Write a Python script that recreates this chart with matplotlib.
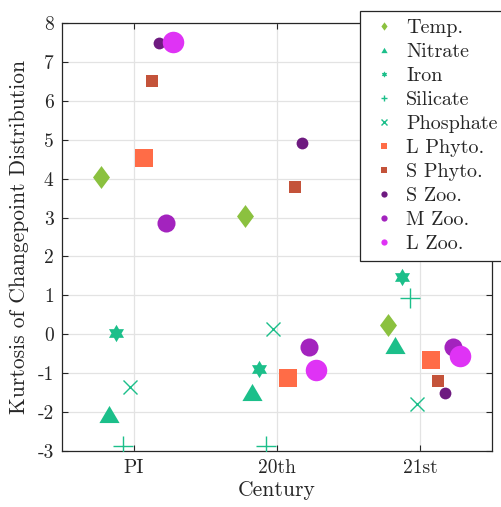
import numpy as np
import matplotlib
matplotlib.use("Agg")
import matplotlib.pyplot as plt
from matplotlib.lines import Line2D
from matplotlib.path import Path

plt.rcParams['font.family'] = ['cmr10', 'DejaVu Serif']
plt.rcParams['axes.unicode_minus'] = False
plt.rcParams['mathtext.fontset'] = 'cm'

# ---------------- data ----------------
centuries = ["PI", "20th", "21st"]
series_names = ["Temp.", "Nitrate", "Iron", "Silicate", "Phosphate",
                "L Phyto.", "S Phyto.", "S Zoo.", "M Zoo.", "L Zoo."]
temp      = [4.04, 3.05, 0.23]
nitrate   = [-2.05, -1.48, -0.27]
iron      = [0.04, -0.88, 1.48]
silicate  = [-2.87, -2.87, 0.92]
phosphate = [-1.35, 0.13, -1.80]
l_phyto   = [4.54, -1.13, -0.66]
s_phyto   = [6.50, 3.79, -1.19]
s_zoo     = [7.48, 4.92, -1.52]
m_zoo     = [2.86, -0.32, -0.32]
l_zoo     = [7.51, -0.93, -0.55]
yticks = [-3, -2, -1, 0, 1, 2, 3, 4, 5, 6, 7, 8]

values = [temp, nitrate, iron, silicate, phosphate,
          l_phyto, s_phyto, s_zoo, m_zoo, l_zoo]

# ---------------- style ----------------
teal = '#1CBF8A'
colors = ['#8BC13F', teal, teal, teal, teal,
          '#FF6C47', '#C4533A', '#6E1A80', '#A323BE', '#DF33F5']
diamond = Path([(0, 1), (0.74, 0), (0, -1), (-0.74, 0), (0, 1)],
               [Path.MOVETO, Path.LINETO, Path.LINETO, Path.LINETO, Path.CLOSEPOLY])
triangle = Path([(0, 0.85), (1, -0.85), (-1, -0.85), (0, 0.85)],
                [Path.MOVETO, Path.LINETO, Path.LINETO, Path.CLOSEPOLY])
_ang = np.pi / 2 + np.arange(12) * np.pi / 6
_rad = np.where(np.arange(12) % 2 == 0, 1.0, 1 / np.sqrt(3))
_verts = list(zip(_rad * np.cos(_ang), _rad * np.sin(_ang)))
hexagram = Path(_verts + [_verts[0]],
                [Path.MOVETO] + [Path.LINETO] * 11 + [Path.CLOSEPOLY])
markers = [diamond, triangle, hexagram, '+', 'x', 's', 's', 'o', 'o', 'o']
sizes = [16.5, 14.5, 12.5, 15, 9.5, 13, 8, 8.5, 13, 15.5]
offsets = [-0.225, -0.175, -0.125, -0.075, -0.025, 0.075, 0.125, 0.175, 0.225, 0.275]

fig = plt.figure(figsize=(5.01, 5.07), dpi=100)
ax = fig.add_axes([62/501, 1 - 451/507, 430/501, 428/507])

x = np.arange(1, len(centuries) + 1)
for name, vals, c, m, s, off in zip(series_names, values, colors, markers, sizes, offsets):
    lw_edge = 1.0 if isinstance(m, str) and m in ('+', 'x') else 0
    ax.plot(x + off, vals, linestyle='none', marker=m, markersize=s,
            color=c, markerfacecolor=c, markeredgecolor=c,
            markeredgewidth=lw_edge, zorder=3)

ax.set_xlim(0.5, 3.5)
ax.set_ylim(-3, 8)
ax.set_xticks(x)
ax.set_xticklabels(centuries)
ax.set_yticks(yticks)
ax.set_yticklabels([str(v) for v in yticks])
ax.grid(True, color='#E3E3E3', linewidth=0.9, zorder=0)
ax.set_axisbelow(True)
ax.tick_params(direction='in', top=True, right=True, length=4, width=0.8,
               colors='#262626', labelsize=14, pad=6)
for sp in ax.spines.values():
    sp.set_color('#262626')
    sp.set_linewidth(0.9)

ax.set_xlabel('Century', fontsize=15.5, color='#262626', labelpad=2)
ax.set_ylabel('Kurtosis of Changepoint Distribution', fontsize=15.5,
              color='#262626', labelpad=6)

handles = []
for name, c, m in zip(series_names, colors, markers):
    is_line = isinstance(m, str) and m in ('+', 'x')
    ms = 5 if is_line else 4.5
    if m is diamond:
        ms = 6
    handles.append(Line2D([], [], linestyle='none', marker=m, markersize=ms,
                          color=c, markerfacecolor=c, markeredgecolor=c,
                          markeredgewidth=1.0 if is_line else 0))
leg = fig.legend(handles, series_names, loc='upper left',
                 bbox_to_anchor=(360/501, 1 - 11/507), fontsize=14.5,
                 frameon=True, fancybox=False, framealpha=1,
                 edgecolor='#262626', labelspacing=0.29, handlelength=1.55,
                 handletextpad=0.35, borderpad=0.4, borderaxespad=0)
leg.get_frame().set_linewidth(0.9)
for t in leg.get_texts():
    t.set_color('#262626')

fig.savefig('out.png', dpi=100)
